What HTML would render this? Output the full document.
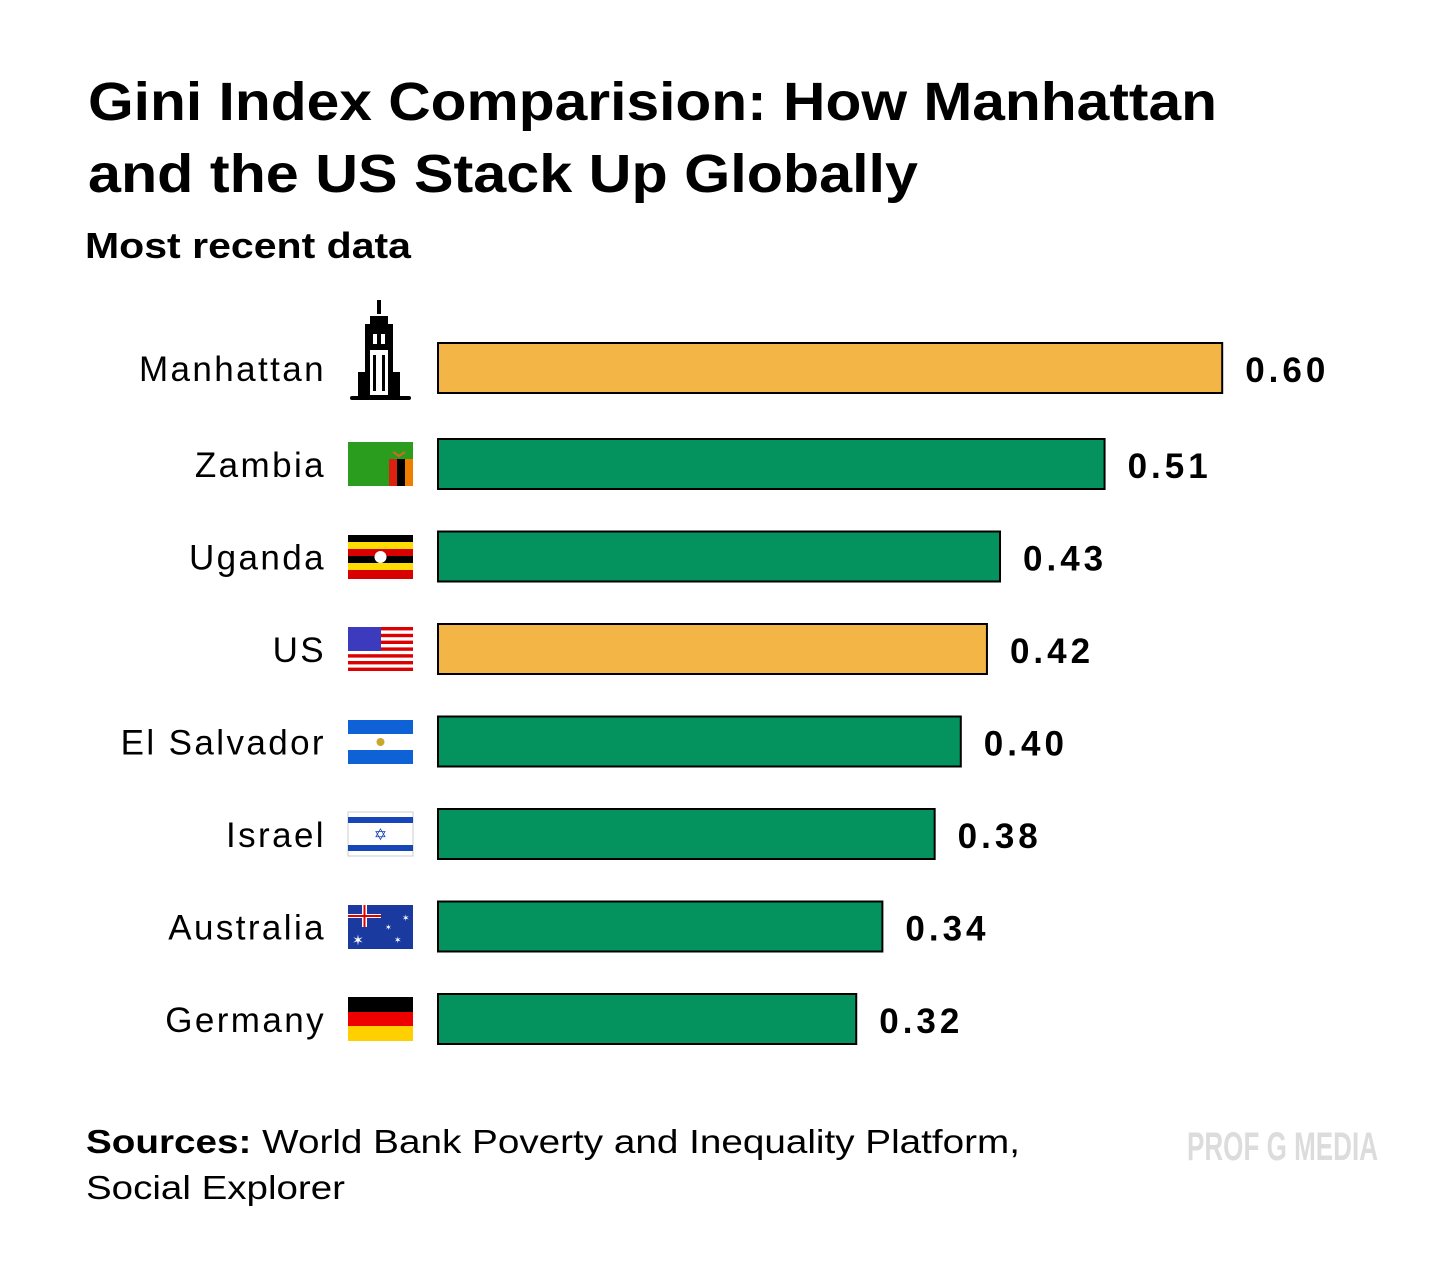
<!DOCTYPE html>
<html><head><meta charset="utf-8"><style>
body{margin:0;background:#fff;}
svg{display:block;font-family:"Liberation Sans",sans-serif;}
</style></head><body>
<svg id="chart" width="1456" height="1274" viewBox="0 0 1456 1274">
<text x="88" y="120" font-size="54" font-weight="bold" textLength="1129" lengthAdjust="spacingAndGlyphs">Gini Index Comparision: How Manhattan</text>
<text x="88" y="192" font-size="54" font-weight="bold" textLength="830" lengthAdjust="spacingAndGlyphs">and the US Stack Up Globally</text>
<text x="85" y="258" font-size="36" font-weight="bold" textLength="326" lengthAdjust="spacingAndGlyphs">Most recent data</text>
<g id="bars"></g>
<g id="icons">
 <g fill="#000">
  <rect x="377" y="300" width="4" height="14"/>
  <polygon points="370,316 388,316 388,324 393,324 393,398 365,398 365,324 370,324"/>
  <rect x="358" y="372" width="8" height="26"/><rect x="392" y="372" width="8" height="26"/>
  <rect x="350" y="396" width="61" height="4" rx="2"/>
  <rect x="370" y="350" width="18" height="45" fill="#fff"/>
  <rect x="373" y="355" width="3" height="36"/><rect x="382" y="355" width="3" height="36"/>
  <rect x="373" y="334" width="4" height="10" fill="#fff"/><rect x="381" y="334" width="4" height="10" fill="#fff"/>
 </g>
 <g><rect x="348" y="442" width="65" height="44" fill="#2a9d1f"/><rect x="389" y="459" width="8" height="27" fill="#de2010"/><rect x="397" y="459" width="8" height="27" fill="#000"/><rect x="405" y="459" width="8" height="27" fill="#ef7d00"/><path d="M393 452 l6 4 l6 -4" stroke="#d2691e" stroke-width="2" fill="none"/></g>
 <g><rect x="348" y="535" width="65" height="44" fill="#000"/><rect x="348" y="542" width="65" height="7" fill="#fcdc04"/><rect x="348" y="549" width="65" height="7" fill="#d90000"/><rect x="348" y="563" width="65" height="7" fill="#fcdc04"/><rect x="348" y="570" width="65" height="9" fill="#d90000"/><circle cx="380.5" cy="557" r="6" fill="#fff"/></g>
 <g><rect x="348" y="627" width="65" height="44" fill="#fff"/>
  <g fill="#d00"><rect x="348" y="627" width="65" height="3.4"/><rect x="348" y="633.8" width="65" height="3.4"/><rect x="348" y="640.6" width="65" height="3.4"/><rect x="348" y="647.4" width="65" height="3.4"/><rect x="348" y="654.2" width="65" height="3.4"/><rect x="348" y="661" width="65" height="3.4"/><rect x="348" y="667.6" width="65" height="3.4"/></g>
  <rect x="348" y="627" width="33" height="24" fill="#3c3bbd"/></g>
 <g><rect x="348" y="720" width="65" height="44" fill="#fff"/><rect x="348" y="720" width="65" height="14" fill="#0f62d6"/><rect x="348" y="750" width="65" height="14" fill="#0f62d6"/><circle cx="380.5" cy="742" r="4" fill="#c8a92c"/></g>
 <g><rect x="348" y="812" width="65" height="44" fill="#fff" stroke="#ccc"/><rect x="348" y="817" width="65" height="6" fill="#1846b8"/><rect x="348" y="845" width="65" height="6" fill="#1846b8"/><text x="380.5" y="840" font-size="16" fill="#1846b8" text-anchor="middle">✡</text></g>
 <g><rect x="348" y="905" width="65" height="44" fill="#1a3aa0"/><rect x="348" y="914" width="33" height="4" fill="#fff"/><rect x="362" y="905" width="5" height="22" fill="#fff"/><rect x="348" y="915" width="33" height="2" fill="#d00"/><rect x="363.5" y="905" width="2" height="22" fill="#d00"/><text x="358" y="945" font-size="14" fill="#fff" text-anchor="middle">✶</text><text x="402" y="921" font-size="9" fill="#fff">✶</text><text x="394" y="943" font-size="9" fill="#fff">✶</text><text x="385" y="930" font-size="8" fill="#fff">✶</text></g>
 <g><rect x="348" y="997" width="65" height="15" fill="#000"/><rect x="348" y="1012" width="65" height="14" fill="#e00"/><rect x="348" y="1026" width="65" height="15" fill="#ffd000"/></g>
</g>
<text x="86" y="1153" font-size="33" textLength="934" lengthAdjust="spacingAndGlyphs"><tspan font-weight="bold">Sources:</tspan> World Bank Poverty and Inequality Platform,</text>
<text x="86" y="1199" font-size="33" textLength="259" lengthAdjust="spacingAndGlyphs">Social Explorer</text>
<text x="1187" y="1160" font-size="40" font-weight="bold" fill="#dcdcdc" textLength="191" lengthAdjust="spacingAndGlyphs">PROF G MEDIA</text>
</svg>
<script>
const categories=["Manhattan","Zambia","Uganda","US","El Salvador","Israel","Australia","Germany"];
const values=[0.60,0.51,0.43,0.42,0.40,0.38,0.34,0.32];
const labels=["0.60","0.51","0.43","0.42","0.40","0.38","0.34","0.32"];
const highlight=[true,false,false,true,false,false,false,false];
const NS="http://www.w3.org/2000/svg";
const x0=438, scale=1307;
function xPos(v){return x0+v*scale;}
const centers=[368,464,556,649,742,834,927,1019];
function yPos(i){return i===0?centers[0]:464+(i-1)*92.5;}
const g=document.getElementById('bars');
categories.forEach((c,i)=>{
 const cy=yPos(i);
 const r=document.createElementNS(NS,'rect');
 r.setAttribute('x',x0);r.setAttribute('y',cy-25);
 r.setAttribute('width',xPos(values[i])-x0);r.setAttribute('height',50);
 r.setAttribute('fill',highlight[i]?'#f2b546':'#04925e');
 r.setAttribute('stroke','#000');r.setAttribute('stroke-width','2');
 
 
 g.appendChild(r);
 const t=document.createElementNS(NS,'text');
 t.setAttribute('x',326);t.setAttribute('y',cy+13);
 t.setAttribute('text-anchor','end');t.setAttribute('font-size','35');
 t.setAttribute('letter-spacing','2.4');
 t.textContent=c;
 
 
 g.appendChild(t);
 const v=document.createElementNS(NS,'text');
 v.setAttribute('x',xPos(values[i])+23);v.setAttribute('y',cy+14);
 v.setAttribute('font-size','35');v.setAttribute('font-weight','bold');
 v.setAttribute('letter-spacing','4');
 v.textContent=labels[i];
 
 
 g.appendChild(v);
});
</script>
</body></html>
